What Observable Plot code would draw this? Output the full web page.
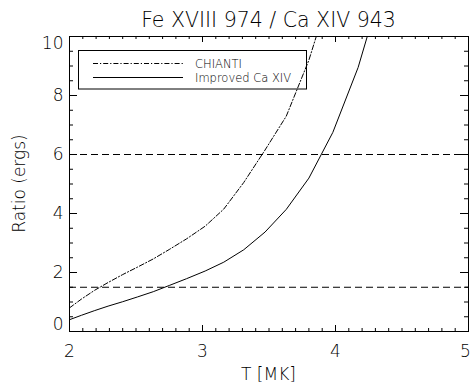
<!DOCTYPE html>
<html>
<head>
<meta charset="utf-8">
<script src="https://cdn.jsdelivr.net/npm/d3@7"></script>
<script src="https://cdn.jsdelivr.net/npm/@observablehq/plot@0.6"></script>
<style>
  html, body { margin: 0; padding: 0; background: #fff; }
  svg text { font-family: "DejaVu Sans", sans-serif; font-weight: 200; }
</style>
</head>
<body>
<div id="chart"></div>
<script>
// ---- data ----
const titleText = "Fe XVIII 974 / Ca XIV 943";
const xLabelText = "T [MK]";
const yLabelText = "Ratio (ergs)";
const seriesNames = ["CHIANTI", "Improved Ca XIV"];

const temps = [2.00, 2.09, 2.19, 2.29, 2.40, 2.51, 2.63, 2.75, 2.88, 3.02, 3.16, 3.31, 3.47, 3.63, 3.80, 3.98, 4.17, 4.37];
const chiantiRatio = [0.80, 1.10, 1.40, 1.66, 1.93, 2.18, 2.46, 2.78, 3.14, 3.57, 4.15, 5.05, 6.15, 7.30, 9.20, 11.8];
const improvedRatio = [0.40, 0.55, 0.71, 0.86, 1.01, 1.17, 1.35, 1.56, 1.79, 2.05, 2.35, 2.77, 3.37, 4.14, 5.20, 6.75, 8.95, 12.0];
const refLevels = [1.5, 6];

const xTickValues = [2, 3, 4, 5];
const xTickLabels = ["2", "3", "4", "5"];
const yTickValues = [0, 2, 4, 6, 8, 10];
const yTickLabels = ["0", "2", "4", "6", "8", "10"];

// ---- tables ----
const chianti = chiantiRatio.map((r, i) => ({T: temps[i], r}));
const improved = improvedRatio.map((r, i) => ({T: temps[i], r}));
const xMinor = d3.range(2, 5.0001, 0.1).map(v => +v.toFixed(2));
const yMinor = d3.range(0, 10.0001, 0.5);
const xTicks = xTickValues.map((v, i) => ({v, label: xTickLabels[i]}));
const yTicks = yTickValues.map((v, i) => ({v, label: yTickLabels[i]}));

const W = 472, H = 387;
const mL = 69, mR = 4, mT = 36, mB = 56;
const fw = W - mL - mR, fh = H - mT - mB;
const xDom = [2, 5], yDom = [0, 10];
const pxX = (xDom[1] - xDom[0]) / fw, pxY = (yDom[1] - yDom[0]) / fh;

const chart = Plot.plot({
  width: W, height: H,
  marginLeft: mL, marginRight: mR, marginTop: mT, marginBottom: mB,
  x: {domain: xDom, axis: null},
  y: {domain: yDom, axis: null},
  style: {fontFamily: "DejaVu Sans, sans-serif", fontSize: "17px", color: "#000", background: "#fff"},
  marks: [
    Plot.ruleY(refLevels, {stroke: "#000", strokeWidth: 1, strokeDasharray: "7,4"}),
    Plot.line(chianti, {x: "T", y: "r", stroke: "#000", strokeWidth: 1, strokeDasharray: "5,2,1.2,2", clip: true}),
    Plot.line(improved, {x: "T", y: "r", stroke: "#000", strokeWidth: 1, clip: true}),
    Plot.ruleX(xMinor, {x: d => d, y1: yDom[0], y2: yDom[0] + 3 * pxY, stroke: "#000"}),
    Plot.ruleX(xMinor, {x: d => d, y1: yDom[1], y2: yDom[1] - 3 * pxY, stroke: "#000"}),
    Plot.ruleX(xTickValues, {x: d => d, y1: yDom[0], y2: yDom[0] + 6 * pxY, stroke: "#000"}),
    Plot.ruleX(xTickValues, {x: d => d, y1: yDom[1], y2: yDom[1] - 6 * pxY, stroke: "#000"}),
    Plot.ruleY(yMinor, {y: d => d, x1: xDom[0], x2: xDom[0] + 4 * pxX, stroke: "#000"}),
    Plot.ruleY(yMinor, {y: d => d, x1: xDom[1], x2: xDom[1] - 4 * pxX, stroke: "#000"}),
    Plot.ruleY(yTickValues, {y: d => d, x1: xDom[0], x2: xDom[0] + 8 * pxX, stroke: "#000"}),
    Plot.ruleY(yTickValues, {y: d => d, x1: xDom[1], x2: xDom[1] - 8 * pxX, stroke: "#000"}),
    Plot.text(xTicks.filter(d => d.v < 5), {x: "v", text: "label", frameAnchor: "bottom", lineAnchor: "middle", dy: 20, fontSize: 17, fill: "#000"}),
    Plot.text(xTicks.filter(d => d.v === 5), {x: "v", text: "label", frameAnchor: "bottom", lineAnchor: "middle", dy: 20, dx: -3, fontSize: 17, fill: "#000"}),
    Plot.text(yTicks.filter(d => d.v > 0 && d.v < 10), {y: "v", text: "label", frameAnchor: "left", textAnchor: "end", dx: -6, fontSize: 17, fill: "#000"}),
    Plot.text(yTicks.filter(d => d.v === 0), {y: "v", text: "label", frameAnchor: "left", textAnchor: "end", dx: -6, dy: -7, fontSize: 17, fill: "#000"}),
    Plot.text(yTicks.filter(d => d.v === 10), {y: "v", text: "label", frameAnchor: "left", textAnchor: "end", dx: -6, dy: 7, fontSize: 17, fill: "#000"}),
    Plot.frame({stroke: "#000", strokeWidth: 1})
  ]
});

document.getElementById("chart").appendChild(chart);

const svg = d3.select(chart);
svg.append("text").attr("x", mL + fw / 2).attr("y", 27).attr("text-anchor", "middle")
  .attr("font-size", 20.5).attr("fill", "#000").text(titleText);
svg.append("text").attr("x", mL + fw / 2).attr("y", 380).attr("text-anchor", "middle")
  .attr("font-size", 17).attr("fill", "#000").text(xLabelText);
svg.append("text").attr("transform", `translate(25,${mT + fh / 2}) rotate(-90)`).attr("text-anchor", "middle")
  .attr("font-size", 17).attr("fill", "#000").text(yLabelText);

const lg = svg.append("g");
lg.append("rect").attr("x", 78.5).attr("y", 50.5).attr("width", 228).attr("height", 38.5)
  .attr("fill", "none").attr("stroke", "#000").attr("stroke-width", 1);
const styles = ["5,2,1.2,2", null];
[63.5, 77.5].forEach((yy, i) => {
  const ln = lg.append("line").attr("x1", 93).attr("x2", 183).attr("y1", yy).attr("y2", yy)
    .attr("stroke", "#000").attr("stroke-width", 1);
  if (styles[i]) ln.attr("stroke-dasharray", styles[i]);
  lg.append("text").attr("x", 195).attr("y", yy + 4.2).attr("text-anchor", "start")
    .attr("font-size", 11.5).attr("fill", "#000").text(seriesNames[i]);
});
</script>
</body>
</html>
